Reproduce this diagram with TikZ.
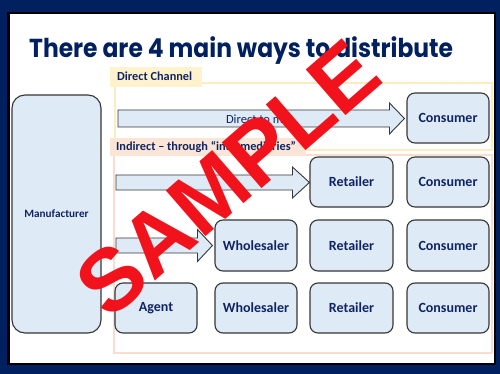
\documentclass[tikz,border=0pt]{standalone}
\usepackage{fontspec}
\setmainfont{Carlito}
\newfontfamily\titlefont{Poppins}
\newfontfamily\wmfont{Liberation Sans}
\usetikzlibrary{calc}
\definecolor{navy}{RGB}{0,32,96}
\definecolor{txtnavy}{RGB}{16,36,100}
\definecolor{boxfill}{RGB}{222,234,246}
\definecolor{boxline}{RGB}{55,55,55}
\definecolor{yeltab}{RGB}{255,242,204}
\definecolor{yelline}{RGB}{255,236,190}
\definecolor{pinktab}{RGB}{251,229,214}
\definecolor{pinkline}{RGB}{250,222,205}
\definecolor{wmred}{RGB}{242,18,28}
\tikzset{
  chbox/.style={draw=boxline, line width=1.1pt, fill=boxfill, rounded corners=8pt,
    minimum width=82pt, minimum height=50pt, inner sep=0pt,
    font=\bfseries\fontsize{14}{14}\selectfont, text=txtnavy},
  barrow/.style={draw=boxline, line width=0.9pt, fill=boxfill, line join=miter},
  tablabel/.style={font=\bfseries\fontsize{12.3}{12.3}\selectfont, text=txtnavy, anchor=base west, inner sep=0pt},
}
\begin{document}
\begin{tikzpicture}[x=1pt,y=-1pt]
\useasboundingbox (0,0) rectangle (500,374);
% frame
\fill[navy] (0,0) rectangle (500,374);
\fill[black] (7,12) rectangle (496,365);
\fill[white] (10,14.5) rectangle (493.5,362.5);
% title
\node[anchor=base west, inner sep=0pt, text=navy, font=\titlefont\bfseries\fontsize{26}{26}\selectfont] (title) at (29,58) {\scalebox{0.9}[1]{There are 4 main ways to distribute}};
% direct channel frame
\draw[yelline, line width=1.6pt] (115,83) rectangle (492,150);
\fill[yeltab] (110,67) rectangle (202,87);
\node[tablabel] (dlab) at (117,81) {Direct Channel};
% indirect frame
\draw[pinkline, line width=1.6pt] (114,155) rectangle (492,353);
\fill[pinktab] (110,138) rectangle (306,156);
\node[tablabel] (ilab) at (116,151) {Indirect – through “intermediaries”};
% boxes
\node[chbox, minimum width=89pt, minimum height=238pt, rounded corners=13pt, font=\bfseries\fontsize{11.2}{11.2}\selectfont] (man) at (56.5,214) {Manufacturer};
\node[chbox] (c1) at (448,118) {Consumer};
\node[chbox, minimum width=83pt] (r2) at (351.5,182) {Retailer};
\node[chbox] (c2) at (448,182) {Consumer};
\node[chbox, minimum height=51pt] (w3) at (256,245.5) {Wholesaler};
\node[chbox, minimum width=83pt, minimum height=51pt] (r3) at (351.5,245.5) {Retailer};
\node[chbox, minimum height=51pt] (c3) at (448,245.5) {Consumer};
\node[chbox] (a4) at (156,308) {Agent};
\node[chbox] (w4) at (256,308) {Wholesaler};
\node[chbox, minimum width=83pt] (r4) at (351.5,308) {Retailer};
\node[chbox] (c4) at (448,308) {Consumer};
% block arrows
\coordinate (s1) at (118,118.5);
\coordinate (t1) at ($(c1.west)+(-2,0.5)$);
\draw[barrow] ($(s1)+(0,-8.5)$) -- ($(t1)+(-15,-8.5)$) -- ($(t1)+(-15,-15.5)$) -- (t1)
  -- ($(t1)+(-15,15.5)$) -- ($(t1)+(-15,8.5)$) -- ($(s1)+(0,8.5)$) -- cycle;
\node[font=\fontsize{12.5}{12.5}\selectfont, text=txtnavy, inner sep=0pt] (dlbl) at (257.5,119) {Direct to me};
\coordinate (s2) at (116,182.5);
\coordinate (t2) at ($(r2.west)+(0,0.5)$);
\draw[barrow] ($(s2)+(0,-7.5)$) -- ($(t2)+(-17,-7.5)$) -- ($(t2)+(-17,-15.5)$) -- (t2)
  -- ($(t2)+(-17,15.5)$) -- ($(t2)+(-17,7.5)$) -- ($(s2)+(0,7.5)$) -- cycle;
\coordinate (s3) at (116,245.5);
\coordinate (t3) at ($(w3.west)+(-2,0)$);
\draw[barrow] ($(s3)+(0,-7.5)$) -- ($(t3)+(-15,-7.5)$) -- ($(t3)+(-15,-16)$) -- (t3)
  -- ($(t3)+(-15,16)$) -- ($(t3)+(-15,7.5)$) -- ($(s3)+(0,7.5)$) -- cycle;
% watermark
\node[rotate=41, inner sep=0pt, text=wmred, font=\wmfont\bfseries\fontsize{88}{88}\selectfont] (wm) at (228,178) {SAMPLE};
\end{tikzpicture}
\end{document}
